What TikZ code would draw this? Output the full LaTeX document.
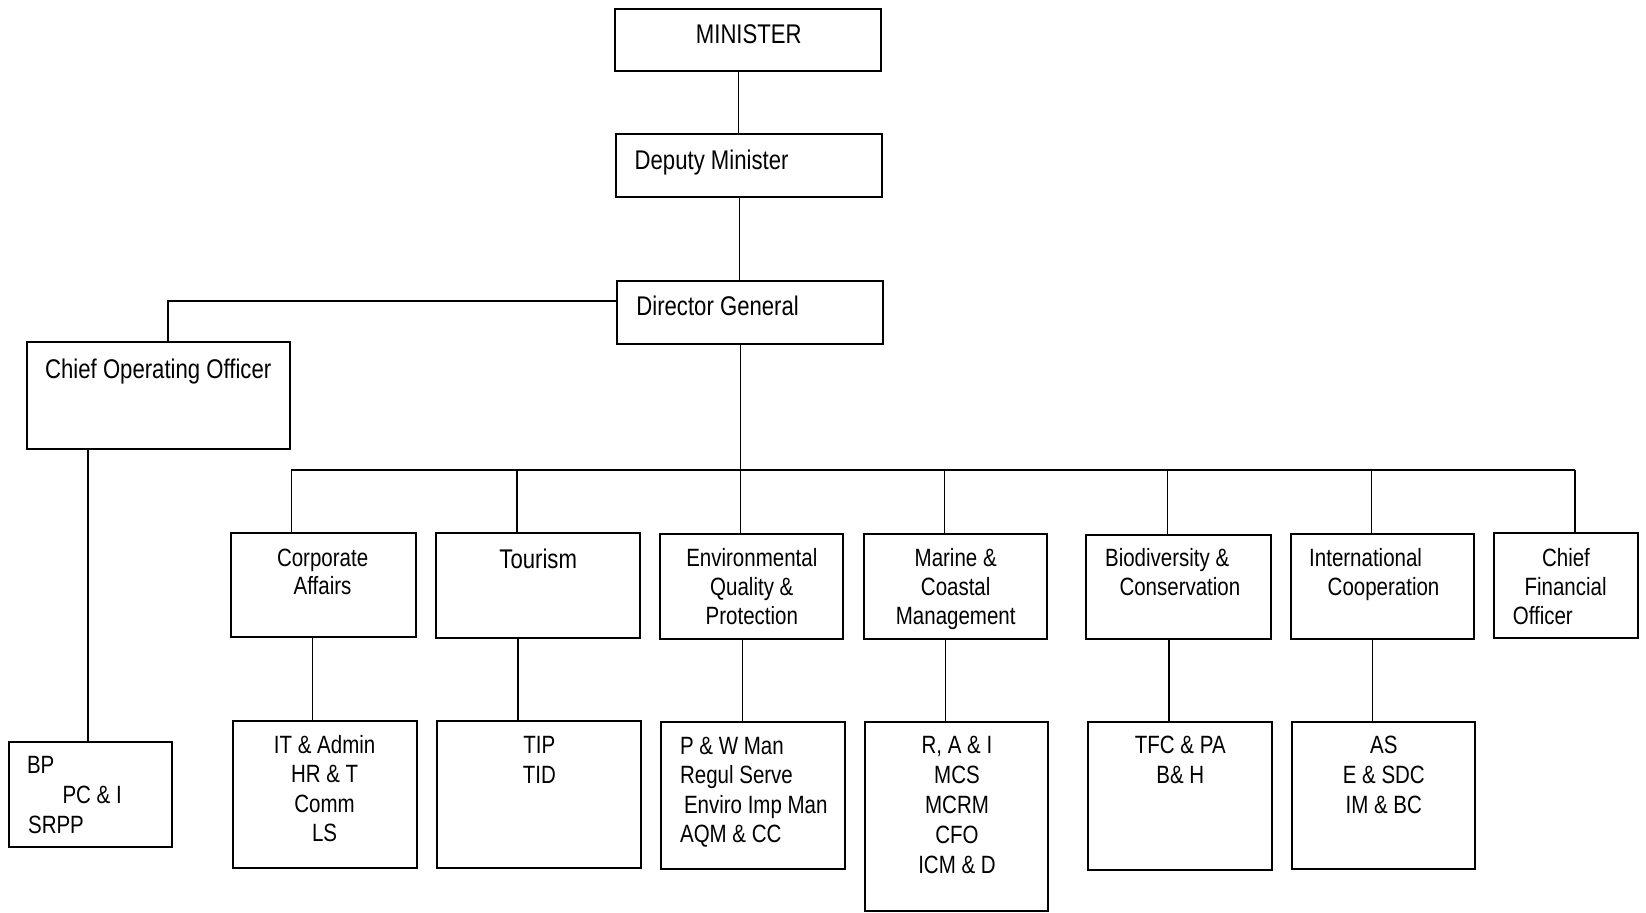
\documentclass[tikz,border=0pt]{standalone}
\usepackage{fontspec}
\setmainfont[FakeStretch=0.82]{Liberation Sans}
\usetikzlibrary{fit}
\begin{document}
\begin{tikzpicture}[x=0.5pt,y=-0.5pt,
  box/.style={draw, line width=1pt, inner sep=0pt, fit={#1}},
  conn/.style={line width=0.75pt},
  lbl/.style={inner sep=0pt, font=\fontsize{12.5}{15}\selectfont},
  big/.style={inner sep=0pt, font=\fontsize{13.5}{16}\selectfont}]
\useasboundingbox (0,0) rectangle (1646,913);
% boxes
\node[box={(615.3,9) (881.1,71)}] (minister) {};
\node[box={(615.9,134) (882.2,197.3)}] (deputy) {};
\node[box={(617,281) (882.8,344.3)}] (dg) {};
\node[box={(27,342) (290.4,449)}] (coo) {};
\node[box={(8.9,741.7) (172,847.3)}] (bp) {};
\node[box={(231.4,532.7) (416.1,637.3)}] (corp) {};
\node[box={(436.1,533.3) (639.7,637.7)}] (tour) {};
\node[box={(659.7,534) (843.4,638.7)}] (env) {};
\node[box={(863.6,534.3) (1046.6,638.7)}] (marine) {};
\node[box={(1086.2,535.5) (1270.8,638.7)}] (bio) {};
\node[box={(1290.8,534.3) (1474.3,638.7)}] (intl) {};
\node[box={(1493.8,533.3) (1638.3,637.7)}] (cfo) {};
\node[box={(232.5,720.7) (417.2,867.7)}] (it) {};
\node[box={(437.2,720.7) (640.9,868.3)}] (tip) {};
\node[box={(660.8,721.7) (845,869.3)}] (pw) {};
\node[box={(865.2,721.7) (1048.2,911.2)}] (rai) {};
\node[box={(1087.8,721.7) (1271.8,870)}] (tfc) {};
\node[box={(1291.8,721.7) (1475.3,869.3)}] (as) {};
% connectors
\draw[conn] (minister.south -| 738.7,0) -- (deputy.north -| 738.7,0);
\draw[conn] (deputy.south -| 739.3,0) -- (dg.north -| 739.3,0);
\draw[conn] (dg.west |- 0,301) -| (coo.north -| 168.2,0);
\draw[conn] (coo.south -| 88,0) -- (bp.north -| 88,0);
\coordinate (busL) at (291.3,470);
\coordinate (busR) at (1575,470);
\coordinate (busM) at (740.5,470);
\draw[conn] (dg.south -| busM) -- (busM);
\draw[conn] (busL) -- (busR);
\draw[conn] (busL) -- (corp.north -| busL);
\draw[conn] (517.1,470) -- (tour.north -| 517.1,0);
\draw[conn] (busM) -- (env.north -| busM);
\draw[conn] (944.3,470) -- (marine.north -| 944.3,0);
\draw[conn] (1167.4,470) -- (bio.north -| 1167.4,0);
\draw[conn] (1371.5,470) -- (intl.north -| 1371.5,0);
\draw[conn] (busR) -- (cfo.north -| busR);
\draw[conn] (corp.south -| 312.4,0) -- (it.north -| 312.4,0);
\draw[conn] (tour.south -| 518.2,0) -- (tip.north -| 518.2,0);
\draw[conn] (env.south -| 742.4,0) -- (pw.north -| 742.4,0);
\draw[conn] (marine.south -| 945.4,0) -- (rai.north -| 945.4,0);
\draw[conn] (bio.south -| 1169,0) -- (tfc.north -| 1169,0);
\draw[conn] (intl.south -| 1372.5,0) -- (as.north -| 1372.5,0);
% texts
\node[big, anchor=base] (tmin) at (748.8,43.3) {MINISTER};
\node[big, anchor=base west] (tdep) at (634.3,170) {Deputy Minister};
\node[big, anchor=base west] (tdg) at (636,316) {Director General};
\node[big, anchor=base west] (tcoo) at (44.8,378.3) {Chief Operating Officer};
\node[lbl, anchor=base west] (tbp1) at (26.6,773.3) {BP};
\node[lbl, anchor=base west] (tbp2) at (62.1,804) {PC \& I};
\node[lbl, anchor=base west] (tbp3) at (27.7,833.3) {SRPP};
\node[lbl, anchor=base] (tc1) at (322.6,566.7) {Corporate};
\node[lbl, anchor=base] (tc2) at (322.6,595) {Affairs};
\node[big, anchor=base] (tt1) at (538.2,568.3) {Tourism};
\node[lbl, anchor=base] (te1) at (751.8,566.7) {Environmental};
\node[lbl, anchor=base] (te2) at (751.8,596) {Quality \&};
\node[lbl, anchor=base] (te3) at (751.8,624.3) {Protection};
\node[lbl, anchor=base] (tm1) at (955.7,566.7) {Marine \&};
\node[lbl, anchor=base] (tm2) at (955.7,596) {Coastal};
\node[lbl, anchor=base] (tm3) at (955.7,624.3) {Management};
\node[lbl, anchor=base west] (tb1) at (1104.7,566.7) {Biodiversity \&};
\node[lbl, anchor=base west] (tb2) at (1119.1,596) {Conservation};
\node[lbl, anchor=base west] (ti1) at (1308.8,566.7) {International};
\node[lbl, anchor=base west] (ti2) at (1327.3,596) {Cooperation};
\node[lbl, anchor=base] (tf1) at (1566,566.7) {Chief};
\node[lbl, anchor=base] (tf2) at (1565.6,596) {Financial};
\node[lbl, anchor=base west] (tf3) at (1512.4,624.3) {Officer};
\node[lbl, anchor=base] (ta1) at (324.6,753.3) {IT \& Admin};
\node[lbl, anchor=base] (ta2) at (324.6,782.3) {HR \& T};
\node[lbl, anchor=base] (ta3) at (324.6,812.7) {Comm};
\node[lbl, anchor=base] (ta4) at (324.6,841.7) {LS};
\node[lbl, anchor=base] (tp1) at (539.3,753.3) {TIP};
\node[lbl, anchor=base] (tp2) at (539.3,783.3) {TID};
\node[lbl, anchor=base west] (tw1) at (679.7,754.3) {P \& W Man};
\node[lbl, anchor=base west] (tw2) at (679.7,783.3) {Regul Serve};
\node[lbl, anchor=base west] (tw3) at (683.6,813.3) {Enviro Imp Man};
\node[lbl, anchor=base west] (tw4) at (679.7,842.7) {AQM \& CC};
\node[lbl, anchor=base] (tr1) at (957,754) {R, A \& I};
\node[lbl, anchor=base] (tr2) at (957,783.3) {MCS};
\node[lbl, anchor=base] (tr3) at (957,813.3) {MCRM};
\node[lbl, anchor=base] (tr4) at (957,843.3) {CFO};
\node[lbl, anchor=base] (tr5) at (957,873.3) {ICM \& D};
\node[lbl, anchor=base] (tx1) at (1180.3,754) {TFC \& PA};
\node[lbl, anchor=base] (tx2) at (1180.3,783.3) {B\& H};
\node[lbl, anchor=base] (ts1) at (1383.8,754) {AS};
\node[lbl, anchor=base] (ts2) at (1383.8,783.3) {E \& SDC};
\node[lbl, anchor=base] (ts3) at (1383.8,813.3) {IM \& BC};
\end{tikzpicture}
\end{document}
